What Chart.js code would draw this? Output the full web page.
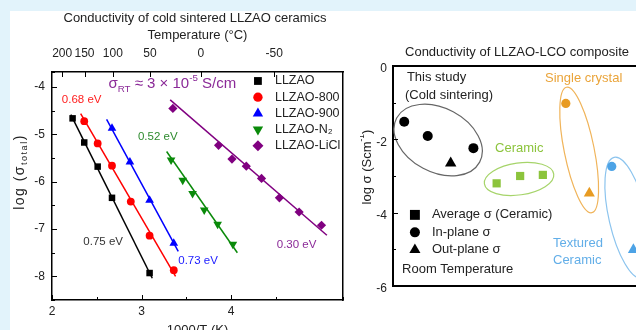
<!DOCTYPE html>
<html>
<head>
<meta charset="utf-8">
<script src="https://cdn.jsdelivr.net/npm/chart.js@4.4.1/dist/chart.umd.min.js"></script>
<style>
  html, body { margin: 0; padding: 0; width: 636px; height: 330px; overflow: hidden; background: #e2f3fb; }
  #painel { position: absolute; left: 10px; top: 11px; right: 0; bottom: 0; background: #fff; }
  #boxEsq { position: absolute; left: 0; top: 0; width: 390px; height: 340px; }
  #boxDir { position: absolute; left: 360px; top: 0; width: 314px; height: 330px; }
</style>
</head>
<body>
<div id="painel"></div>
<div id="boxEsq"><canvas id="graficoEsq"></canvas></div>
<div id="boxDir"><canvas id="graficoDir"></canvas></div>
<script>
/* ================= DADOS ================= */

// painel esquerdo: log(sigma) x 1000/T
const tempTicksC = [200, 150, 100, 50, 0, -50];

const llzaoX = [2.23, 2.36, 2.51, 2.67, 3.09];
const llzaoY = [-4.66, -5.17, -5.68, -6.34, -7.93];
const llzao800X = [2.36, 2.51, 2.67, 2.88, 3.09, 3.36];
const llzao800Y = [-4.72, -5.19, -5.66, -6.42, -7.14, -7.87];
const llzao900X = [2.67, 2.87, 3.09, 3.36];
const llzao900Y = [-4.87, -5.58, -6.39, -7.30];
const llzaoN2X = [3.33, 3.46, 3.57, 3.70, 3.85, 4.02];
const llzaoN2Y = [-5.54, -5.97, -6.25, -6.60, -6.90, -7.32];
const llzaoLiClX = [3.35, 3.86, 4.01, 4.17, 4.34, 4.54, 4.76, 5.01];
const llzaoLiClY = [-4.45, -5.23, -5.52, -5.67, -5.93, -6.34, -6.64, -6.92];

// retas de ajuste (inicio e fim)
const ajusteLLZAO = [[2.21, -4.58], [3.12, -8.04]];
const ajuste800 = [[2.32, -4.56], [3.38, -8.0]];
const ajuste900 = [[2.61, -4.68], [3.41, -7.47]];
const ajusteN2 = [[3.28, -5.36], [4.07, -7.5]];
const ajusteLiCl = [[3.32, -4.27], [5.07, -7.13]];

// painel direito: log sigma a temperatura ambiente
const estudoPlanoX = [0.42, 1.30, 3.01];
const estudoPlanoY = [-1.52, -1.91, -2.24];
const estudoForaX = [2.16];
const estudoForaY = [-2.65];
const ceramicaX = [3.88, 4.76, 5.61];
const ceramicaY = [-3.20, -3.00, -2.97];
const cristalPlanoX = [6.47];
const cristalPlanoY = [-1.02];
const cristalForaX = [7.35];
const cristalForaY = [-3.47];
const texturPlanoX = [8.19];
const texturPlanoY = [-2.74];
const texturForaX = [9.00];
const texturForaY = [-5.01];

/* ================= UTIL ================= */

const FONTE = '"Liberation Sans", Arial, sans-serif';
Chart.defaults.font.family = FONTE;
Chart.defaults.font.size = 12;
Chart.defaults.color = '#222';

function pontos(xs, ys) {
  return xs.map((x, i) => ({ x, y: ys[i] }));
}

function desenharRico(ctx, partes, x, y, tam, cor, alinhar, rot, espaco) {
  ctx.save();
  ctx.translate(x, y);
  if (rot) ctx.rotate(rot);
  ctx.fillStyle = cor;
  ctx.textBaseline = 'middle';
  ctx.textAlign = 'left';
  if (espaco) ctx.letterSpacing = espaco;
  const tamanho = p => (p[1] ? tam * 0.65 : tam);
  let largura = 0;
  partes.forEach(p => {
    ctx.font = tamanho(p) + 'px ' + FONTE;
    largura += ctx.measureText(p[0]).width;
  });
  let cx = alinhar === 'center' ? -largura / 2 : 0;
  partes.forEach(p => {
    ctx.font = tamanho(p) + 'px ' + FONTE;
    const dy = p[1] === 'sub' ? tam * 0.32 : p[1] === 'sup' ? -tam * 0.38 : 0;
    ctx.fillText(p[0], cx, dy);
    cx += ctx.measureText(p[0]).width;
  });
  ctx.restore();
}

function serie(label, xs, ys, cor, estilo, raio, rot) {
  return {
    label,
    data: pontos(xs, ys),
    backgroundColor: cor,
    borderColor: cor,
    borderWidth: 0,
    pointStyle: estilo,
    pointRadius: raio,
    pointRotation: rot || 0,
    showLine: false,
    legenda: true
  };
}

function ajuste(pts, cor) {
  return {
    data: pts.map(([x, y]) => ({ x, y })),
    borderColor: cor,
    borderWidth: 1.5,
    pointRadius: 0,
    showLine: true,
    legenda: false
  };
}

/* ================= PLUGINS ================= */

const ticksInternos = {
  id: 'ticksInternos',
  afterDatasetsDraw(chart, args, opts) {
    const ctx = chart.ctx;
    const a = chart.chartArea;
    ctx.save();
    ctx.strokeStyle = '#000';
    ctx.lineWidth = 1;
    (opts.eixos || []).forEach(id => {
      const s = chart.scales[id];
      s.ticks.forEach(t => {
        const maior = t.label !== '' && t.label !== undefined;
        const len = maior ? 5 : 3;
        const p = Math.round(s.getPixelForValue(t.value)) + 0.5;
        ctx.beginPath();
        if (s.isHorizontal()) {
          const y0 = s.position === 'top' ? a.top : a.bottom;
          const dir = s.position === 'top' ? 1 : -1;
          ctx.moveTo(p, y0);
          ctx.lineTo(p, y0 + dir * len);
        } else {
          ctx.moveTo(a.left, p);
          ctx.lineTo(a.left + len, p);
        }
        ctx.stroke();
      });
    });
    ctx.restore();
  }
};

const elipses = {
  id: 'elipses',
  beforeDatasetsDraw(chart, args, opts) {
    const ctx = chart.ctx;
    const a = chart.chartArea;
    ctx.save();
    ctx.beginPath();
    ctx.rect(a.left, a.top, a.right - a.left, a.bottom - a.top);
    ctx.clip();
    (opts.itens || []).forEach(e => {
      const px = chart.scales.x.getPixelForValue(e.cx);
      const py = chart.scales.y.getPixelForValue(e.cy);
      ctx.beginPath();
      ctx.ellipse(px, py, e.a, e.b, e.rot * Math.PI / 180, 0, Math.PI * 2);
      ctx.strokeStyle = e.cor;
      ctx.lineWidth = 1.2;
      ctx.stroke();
    });
    ctx.restore();
  }
};

const rotulos = {
  id: 'rotulos',
  afterDatasetsDraw(chart, args, opts) {
    const ctx = chart.ctx;
    (opts.itens || []).forEach(r => {
      const px = chart.scales.x.getPixelForValue(r.x);
      const py = chart.scales.y.getPixelForValue(r.y);
      desenharRico(ctx, r.partes, px, py, r.tam, r.cor, 'left');
    });
    const t = opts.tituloY;
    if (t) desenharRico(ctx, t.partes, t.x, (chart.chartArea.top + chart.chartArea.bottom) / 2 + t.dy, t.tam, '#222', 'center', -Math.PI / 2, t.espaco);
  }
};

const legendaInterna = {
  id: 'legendaInterna',
  afterDatasetsDraw(chart, args, opts) {
    if (!opts.x) return;
    const ctx = chart.ctx;
    const x0 = chart.scales.x.getPixelForValue(opts.x);
    let y0 = chart.scales.y.getPixelForValue(opts.y);
    const itens = opts.itens || chart.data.datasets.filter(d => d.legenda).map(d => ({
      texto: d.label, estilo: d.pointStyle, raio: d.pointRadius * (opts.escala || 1), rot: d.pointRotation, cor: d.backgroundColor
    }));
    itens.forEach(it => {
      ctx.save();
      ctx.fillStyle = it.cor || '#000';
      Chart.helpers.drawPoint(ctx, { pointStyle: it.estilo, radius: it.raio, rotation: it.rot || 0, borderWidth: 0 }, x0, y0);
      ctx.restore();
      desenharRico(ctx, it.partes || [[it.texto]], x0 + opts.dx, y0, opts.tam, '#222', 'left');
      y0 += opts.passo;
    });
  }
};

/* ================= GRAFICO ESQUERDO ================= */

const bordaEsq = { display: true, color: '#000', width: 1.5 };

new Chart(document.getElementById('graficoEsq'), {
  type: 'scatter',
  data: {
    datasets: [
      ajuste(ajusteLLZAO, '#000'),
      ajuste(ajuste800, '#ff0000'),
      ajuste(ajuste900, '#0000ff'),
      ajuste(ajusteN2, '#0a8a0a'),
      ajuste(ajusteLiCl, '#800080'),
      serie('LLZAO', llzaoX, llzaoY, '#000', 'rect', 4.6),
      serie('LLZAO-800', llzao800X, llzao800Y, '#ff0000', 'circle', 3.9),
      serie('LLZAO-900', llzao900X, llzao900Y, '#0000ff', 'triangle', 5),
      serie('LLZAO-N₂', llzaoN2X, llzaoN2Y, '#0a8a0a', 'triangle', 5, 180),
      serie('LLZAO-LiCl', llzaoLiClX, llzaoLiClY, '#800080', 'rectRot', 4.6)
    ]
  },
  options: {
    responsive: true,
    maintainAspectRatio: false,
    animation: false,
    layout: { padding: 0 },
    plugins: {
      legend: { display: false },
      tooltip: { enabled: false },
      title: {
        display: true,
        text: 'Conductivity of cold sintered LLZAO ceramics',
        font: { size: 13, weight: 'normal' },
        color: '#222',
        padding: { top: 10.5, bottom: 0 }
      },
      ticksInternos: { eixos: ['x', 'x2', 'y'] },
      legendaInterna: { x: 4.30, y: -3.87, dx: 17, passo: 16.2, tam: 12.5, escala: 1.2 },
      rotulos: {
        itens: [
          { x: 2.63, y: -3.94, tam: 15, cor: '#8b2a98', partes: [['σ'], ['RT', 'sub'], [' ≈ 3 × 10'], ['-5', 'sup'], [' S/cm']] },
          { x: 2.11, y: -4.27, tam: 11.5, cor: '#ff2020', partes: [['0.68 eV']] },
          { x: 2.96, y: -5.06, tam: 11.5, cor: '#2e8b2e', partes: [['0.52 eV']] },
          { x: 2.35, y: -7.28, tam: 11.5, cor: '#333', partes: [['0.75 eV']] },
          { x: 3.41, y: -7.68, tam: 11.5, cor: '#1a1aff', partes: [['0.73 eV']] },
          { x: 4.51, y: -7.34, tam: 11.5, cor: '#8b2a98', partes: [['0.30 eV']] }
        ],
        tituloY: { x: 20, dy: -14, tam: 14, espaco: '1.5px', partes: [['log (σ'], ['total', 'sub'], [')']] }
      }
    },
    scales: {
      x: {
        type: 'linear', position: 'bottom', min: 2, max: 5.25,
        ticks: { stepSize: 0.5, autoSkip: false, maxRotation: 0, padding: 4,
          callback: v => (Number.isInteger(v) ? String(v) : '') },
        grid: { display: false, drawTicks: false },
        border: bordaEsq,
        title: { display: true, text: '1000/T (K)', font: { size: 13 }, color: '#222', padding: { top: 0, bottom: 1.5 } },
        afterFit: s => { s.height = 40; }
      },
      x2: {
        type: 'linear', position: 'top', min: 2, max: 5.25,
        afterBuildTicks: s => { s.ticks = tempTicksC.map(c => ({ value: 1000 / (c + 273.15) })); },
        ticks: { autoSkip: false, maxRotation: 0, padding: 11,
          callback: (v, i) => String(tempTicksC[i]) },
        grid: { display: false, drawTicks: false },
        border: bordaEsq,
        title: { display: true, text: 'Temperature (°C)', font: { size: 13 }, color: '#222', padding: { top: 1.4, bottom: 0 } },
        afterFit: s => { s.height = 45.9; }
      },
      y: {
        type: 'linear', position: 'left', min: -8.5, max: -3.68,
        ticks: { stepSize: 0.5, autoSkip: false, padding: 7,
          callback: v => (Number.isInteger(v) ? String(v) : '') },
        grid: { display: false, drawTicks: false },
        border: bordaEsq,
        afterFit: s => { s.width = 52; }
      },
      y2: {
        type: 'linear', position: 'right', min: -8.5, max: -3.68,
        ticks: { display: false },
        grid: { display: false, drawTicks: false },
        border: bordaEsq,
        afterFit: s => { s.width = 47; }
      }
    }
  },
  plugins: [ticksInternos, legendaInterna, rotulos]
});

/* ================= GRAFICO DIREITO ================= */

const bordaDir = { display: true, color: '#000', width: 2 };

new Chart(document.getElementById('graficoDir'), {
  type: 'scatter',
  data: {
    datasets: [
      serie('estudo plano', estudoPlanoX, estudoPlanoY, '#000', 'circle', 5),
      serie('estudo fora', estudoForaX, estudoForaY, '#000', 'triangle', 6.6),
      serie('ceramica', ceramicaX, ceramicaY, '#8cc43c', 'rect', 5.8),
      serie('cristal plano', cristalPlanoX, cristalPlanoY, '#e89b22', 'circle', 4.6),
      serie('cristal fora', cristalForaX, cristalForaY, '#e89b22', 'triangle', 6.4),
      serie('texturizada plano', texturPlanoX, texturPlanoY, '#4da3e6', 'circle', 4.6),
      serie('texturizada fora', texturForaX, texturForaY, '#4da3e6', 'triangle', 6.4)
    ]
  },
  options: {
    responsive: true,
    maintainAspectRatio: false,
    animation: false,
    layout: { padding: 0, autoPadding: false },
    plugins: {
      legend: { display: false },
      tooltip: { enabled: false },
      title: {
        display: true,
        text: 'Conductivity of LLZAO-LCO composite',
        font: { size: 13, weight: 'normal' },
        color: '#222',
        padding: { top: 44.6, bottom: 0 }
      },
      ticksInternos: { eixos: ['y'] },
      elipses: {
        itens: [
          { cx: 1.69, cy: -2.02, a: 47, b: 32, rot: 28, cor: '#666' },
          { cx: 4.72, cy: -3.08, a: 35, b: 16, rot: -8, cor: '#a6d46a' },
          { cx: 6.97, cy: -2.29, a: 64, b: 15, rot: 78.6, cor: '#f0b45a' },
          { cx: 8.80, cy: -4.14, a: 62, b: 19, rot: 77, cor: '#8cc4ee' }
        ]
      },
      legendaInterna: {
        x: 0.82, y: -4.06, dx: 17, passo: 17.5, tam: 13,
        itens: [
          { estilo: 'rect', raio: 7, cor: '#000', partes: [['Average σ (Ceramic)']] },
          { estilo: 'circle', raio: 5, cor: '#000', partes: [['In-plane σ']] },
          { estilo: 'triangle', raio: 6.4, cor: '#000', partes: [['Out-plane σ']] }
        ]
      },
      rotulos: {
        itens: [
          { x: 0.52, y: -0.30, tam: 13, cor: '#222', partes: [['This study']] },
          { x: 0.45, y: -0.79, tam: 13, cor: '#222', partes: [['(Cold sintering)']] },
          { x: 5.69, y: -0.33, tam: 13, cor: '#eaa43a', partes: [['Single crystal']] },
          { x: 3.82, y: -2.24, tam: 13, cor: '#8cc43c', partes: [['Ceramic']] },
          { x: 5.99, y: -4.83, tam: 13, cor: '#62aee8', partes: [['Textured']] },
          { x: 5.99, y: -5.29, tam: 13, cor: '#62aee8', partes: [['Ceramic']] },
          { x: 0.34, y: -5.56, tam: 13, cor: '#222', partes: [['Room Temperature']] }
        ],
        tituloY: { x: 7, dy: -9, tam: 13, partes: [['log σ (Scm'], ['-1', 'sup'], [')']] }
      }
    },
    scales: {
      x: {
        type: 'linear', position: 'bottom', min: 0, max: 10.52,
        ticks: { display: false },
        grid: { display: false, drawTicks: false },
        border: bordaDir,
        afterFit: s => { s.height = 44; }
      },
      x2: {
        type: 'linear', position: 'top', min: 0, max: 10.52,
        ticks: { display: false },
        grid: { display: false, drawTicks: false },
        border: bordaDir,
        afterFit: s => { s.height = 5.8; }
      },
      y: {
        type: 'linear', position: 'left', min: -6, max: 0,
        ticks: { stepSize: 1, autoSkip: false, padding: 6, labelOffset: 3,
          callback: v => (v % 2 === 0 ? String(Math.abs(v) < 1e-9 ? 0 : v) : '') },
        grid: { display: false, drawTicks: false },
        border: bordaDir,
        afterFit: s => { s.width = 33; }
      }
    }
  },
  plugins: [elipses, ticksInternos, legendaInterna, rotulos]
});
</script>
</body>
</html>
